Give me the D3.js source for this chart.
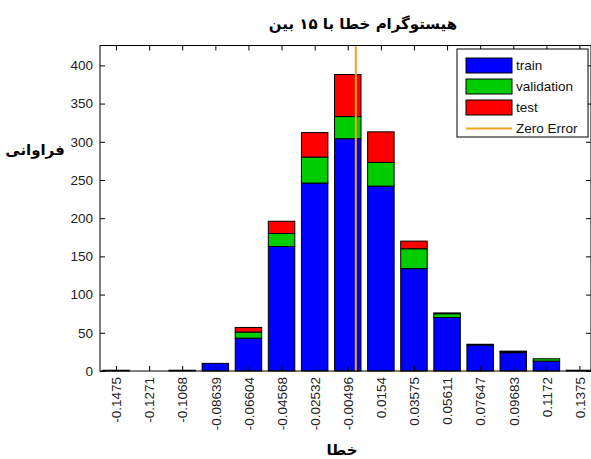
<!DOCTYPE html>
<html>
<head>
<meta charset="utf-8">
<script src="https://cdn.jsdelivr.net/npm/d3@7"></script>
<style>
  html, body { margin: 0; padding: 0; background: #fff; }
  svg { display: block; }
</style>
</head>
<body>
<svg id="chart" width="591" height="459"></svg>
<script>
// ---- data ----
const binLabels = ['-0.1475','-0.1271','-0.1068','-0.08639','-0.06604','-0.04568','-0.02532','-0.00496','0.0154','0.03575','0.05611','0.07647','0.09683','0.1172','0.1375'];
const train      = [1, 0, 1, 10, 43, 163, 246, 304, 242, 134, 70, 34, 24, 13, 1];
const validation = [0, 0, 0, 0, 8, 17, 34, 29, 31, 26, 5, 1, 1, 3, 0];
const test       = [0, 0, 0, 0, 6, 16, 32, 55, 40, 10, 1, 0, 1, 0, 0];
const yTicks = [0, 50, 100, 150, 200, 250, 300, 350, 400];
const seriesNames = ['train', 'validation', 'test'];
const seriesColors = ['#0000ff', '#00cc00', '#ff0000'];
const zeroErrorColor = '#f2a41e';
const titleText = 'هیستوگرام خطا با ۱۵ بین';
const xLabelText = 'خطا';
const yLabelText = 'فراوانی';

(function () {
// ---- layout ----
const svg = d3.select('#chart');
const pLeft = 100, pRight = 591, pTop = 45.5, pBottom = 371;

const binVals = binLabels.map(Number);
const x = d3.scaleLinear()
  .domain([binVals[0], binVals[binVals.length - 1]])
  .range([116, 579.4]);
const step = (x.range()[1] - x.range()[0]) / (binVals.length - 1);
const barW = step * 0.8;

const y = d3.scaleLinear().domain([0, 426]).range([pBottom, pTop]);

const rows = binLabels.map((lab, i) => ({
  key: lab, xv: binVals[i], train: train[i], validation: validation[i], test: test[i]
}));
const stacked = d3.stack().keys(seriesNames)(rows);

// bars
const g = svg.append('g');
stacked.forEach((layer, si) => {
  g.selectAll(null)
    .data(layer.filter(d => d[1] - d[0] > 0))
    .enter().append('rect')
    .attr('x', d => x(d.data.xv) - barW / 2)
    .attr('width', barW)
    .attr('y', d => y(d[1]))
    .attr('height', d => y(d[0]) - y(d[1]))
    .attr('fill', seriesColors[si])
    .attr('stroke', '#000')
    .attr('stroke-width', 1);
});

// zero error line
svg.append('line')
  .attr('x1', x(0)).attr('x2', x(0))
  .attr('y1', pTop).attr('y2', pBottom)
  .attr('stroke', zeroErrorColor).attr('stroke-width', 2);

// frame
svg.append('rect')
  .attr('x', pLeft).attr('y', pTop)
  .attr('width', pRight - pLeft).attr('height', pBottom - pTop)
  .attr('fill', 'none').attr('stroke', '#000').attr('stroke-width', 1);

// x axis (bottom, inward ticks)
const xAxis = d3.axisBottom(x).tickValues(binVals).tickSizeInner(-5).tickSizeOuter(0)
  .tickFormat((d, i) => binLabels[i]);
const gx = svg.append('g').attr('transform', `translate(0,${pBottom})`).call(xAxis);
gx.select('.domain').remove();
gx.selectAll('.tick line').attr('stroke', '#000');
gx.selectAll('.tick text')
  .attr('transform', 'rotate(-90)')
  .attr('x', -6).attr('y', 0).attr('dy', '0.35em')
  .attr('text-anchor', 'end')
  .attr('font-family', 'Liberation Sans, Arial, sans-serif')
  .attr('font-size', 13.5).attr('fill', '#222');

// top mirrored ticks
const gxt = svg.append('g').attr('transform', `translate(0,${pTop})`)
  .call(d3.axisTop(x).tickValues(binVals).tickSizeInner(-5).tickSizeOuter(0).tickFormat(''));
gxt.select('.domain').remove();

// y axis (left, inward ticks)
const yAxis = d3.axisLeft(y).tickValues(yTicks).tickSizeInner(-5).tickSizeOuter(0);
const gy = svg.append('g').attr('transform', `translate(${pLeft},0)`).call(yAxis);
gy.select('.domain').remove();
gy.selectAll('.tick text')
  .attr('x', -7)
  .attr('font-family', 'Liberation Sans, Arial, sans-serif')
  .attr('font-size', 13.5).attr('fill', '#222');

// right mirrored ticks
const gyr = svg.append('g').attr('transform', `translate(${pRight},0)`)
  .call(d3.axisRight(y).tickValues(yTicks).tickSizeInner(-5).tickSizeOuter(0).tickFormat(''));
gyr.select('.domain').remove();

// title and labels
svg.append('text')
  .attr('x', 363).attr('y', 29)
  .attr('text-anchor', 'middle')
  .attr('font-family', 'DejaVu Sans, sans-serif')
  .attr('font-weight', 'bold').attr('font-size', 15)
  .text(titleText);

svg.append('text')
  .attr('x', 35).attr('y', 155)
  .attr('text-anchor', 'middle')
  .attr('font-family', 'DejaVu Sans, sans-serif')
  .attr('font-weight', 'bold').attr('font-size', 15)
  .text(yLabelText);

svg.append('text')
  .attr('x', 342).attr('y', 455)
  .attr('text-anchor', 'middle')
  .attr('font-family', 'DejaVu Sans, sans-serif')
  .attr('font-weight', 'bold').attr('font-size', 15)
  .text(xLabelText);

// legend
const lg = svg.append('g');
lg.append('rect')
  .attr('x', 457).attr('y', 49).attr('width', 131).attr('height', 88)
  .attr('fill', '#fff').attr('stroke', '#000').attr('stroke-width', 1);
const legendItems = seriesNames.concat(['Zero Error']);
legendItems.forEach((name, i) => {
  const cy = 65.5 + i * 21;
  if (i < 3) {
    lg.append('rect')
      .attr('x', 466).attr('y', cy - 7.5).attr('width', 46).attr('height', 15)
      .attr('fill', seriesColors[i]).attr('stroke', '#000').attr('stroke-width', 1);
  } else {
    lg.append('line')
      .attr('x1', 466).attr('x2', 512).attr('y1', cy).attr('y2', cy)
      .attr('stroke', zeroErrorColor).attr('stroke-width', 2);
  }
  lg.append('text')
    .attr('x', 516).attr('y', cy).attr('dy', '0.35em')
    .attr('font-family', 'Liberation Sans, Arial, sans-serif')
    .attr('font-size', 13.5).attr('fill', '#111')
    .text(name);
});
})();
</script>
</body>
</html>
